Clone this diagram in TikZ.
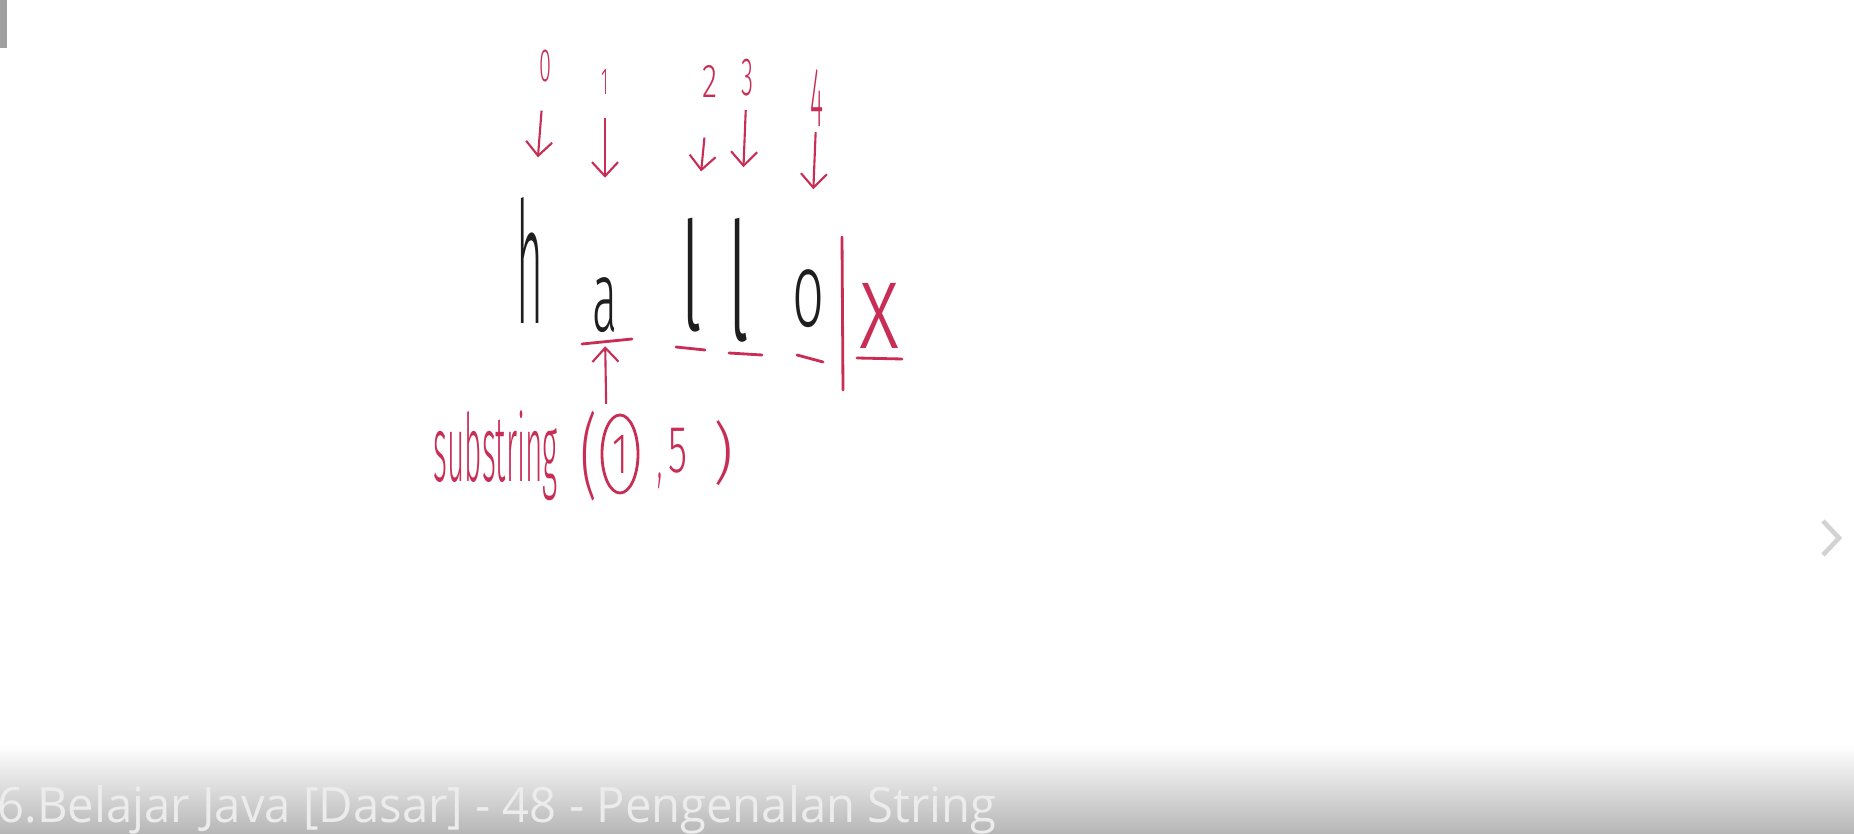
\documentclass[tikz,border=0pt]{standalone}
\usepackage{fontspec}
\newfontfamily\handfont{Fira Sans Light}
\newfontfamily\barfont{Open Sans}
\usetikzlibrary{arrows.meta,shapes.geometric}

\definecolor{ink}{RGB}{30,30,30}
\definecolor{pen}{RGB}{200,45,85}
\definecolor{barshade}{RGB}{182,182,182}
\definecolor{bartext}{RGB}{236,236,236}

% one handwritten glyph, squeezed to a given width and total height (cm)
\newcommand\fitchar[3]{\resizebox*{#1cm}{#2cm}{\handfont #3}}

\tikzset{
  letter/.style={inner sep=0pt, text=ink},
  redtext/.style={inner sep=0pt, text=pen},
  idx/.style={draw=pen, line width=0.6pt, -{Straight Barb[length=1.4mm,width=2.6mm]}},
  underbar/.style={draw=pen, line width=0.8pt, line cap=round}
}

\begin{document}
\begin{tikzpicture}[x=0.01cm,y=-0.01cm]

\useasboundingbox (0,0) rectangle (1854,834);
\fill[white] (0,0) rectangle (1854,834);
\fill[gray!75] (0,0) rectangle (7,48);

% the word
\node[letter] (h) at (530,260) {\fitchar{0.27}{1.26}{h}};
\node[letter] (a) at (605,305) {\fitchar{0.25}{0.55}{a}};
\node[letter] (l1) at (691,275) {\fitchar{0.22}{1.14}{l}};
\node[letter] (l2) at (739,280) {\fitchar{0.22}{1.24}{l}};
\node[letter] (o) at (809,299) {\fitchar{0.32}{0.58}{o}};
\node[redtext] (x) at (880,316) {\fitchar{0.40}{0.65}{x}};

% indices
\node[redtext] (i0) at (545,66) {\fitchar{0.12}{0.32}{0}};
\node[redtext] (i1) at (605,82) {\fitchar{0.07}{0.25}{1}};
\node[redtext] (i2) at (710,81) {\fitchar{0.15}{0.32}{2}};
\node[redtext] (i3) at (747,78) {\fitchar{0.12}{0.37}{3}};
\node[redtext] (i4) at (817,98) {\fitchar{0.13}{0.57}{4}};

\draw[idx, shorten <=0.28cm, shorten >=0.39cm] (i0) -- (h);
\draw[idx, shorten <=0.23cm, shorten >=0.99cm] (i1) -- (a);
\draw[idx, shorten <=0.40cm, shorten >=0.46cm] (i2) -- (l1);
\draw[idx, shorten <=0.13cm, shorten >=0.50cm] (i3) -- (l2);
\draw[idx, shorten <=0.05cm, shorten >=0.80cm] (i4) -- (o);

% underlines and the end marker
\draw[underbar] (582,344) -- (632,339);
\draw[underbar] (676,347) -- (705,350);
\draw[underbar] (729,353) -- (762,355);
\draw[underbar] (797,355) -- (823,362);
\draw[underbar] (857,358) -- (902,359);
\draw[underbar] (842,237) -- (843,390);

% the call
\node[redtext, anchor=north west] (sub) at (433,410) {\fitchar{1.24}{0.90}{substring}};
\node[redtext, anchor=north west] (lp) at (580,410) {\fitchar{0.17}{0.90}{(}};
\node[redtext, draw=pen, line width=0.8pt, ellipse, minimum width=0.36cm,
  minimum height=0.78cm] (one) at (620,454) {\fitchar{0.16}{0.38}{1}};
\node[redtext, anchor=north west] (comma) at (657,472) {\fitchar{0.05}{0.16}{,}};
\node[redtext, anchor=north west] (five) at (668,428) {\fitchar{0.19}{0.45}{5}};
\node[redtext, anchor=north west] (rp) at (713,420) {\fitchar{0.20}{0.65}{)}};

\draw[idx, shorten <=0.21cm, shorten >=0.13cm] (one.115) -- (a.south);

% player bar
\shade[top color=white, bottom color=barshade] (0,745) rectangle (1854,834);
\node[anchor=base west, inner sep=0pt, text=bartext] (title) at (-3,823)
  {\resizebox{9.98cm}{0.37cm}{\barfont 6.Belajar Java [Dasar] - 48 - Pengenalan String}};
\draw[gray!35, line width=1.3pt] (1823,521) -- (1839,538) -- (1823,555);

\end{tikzpicture}
\end{document}
